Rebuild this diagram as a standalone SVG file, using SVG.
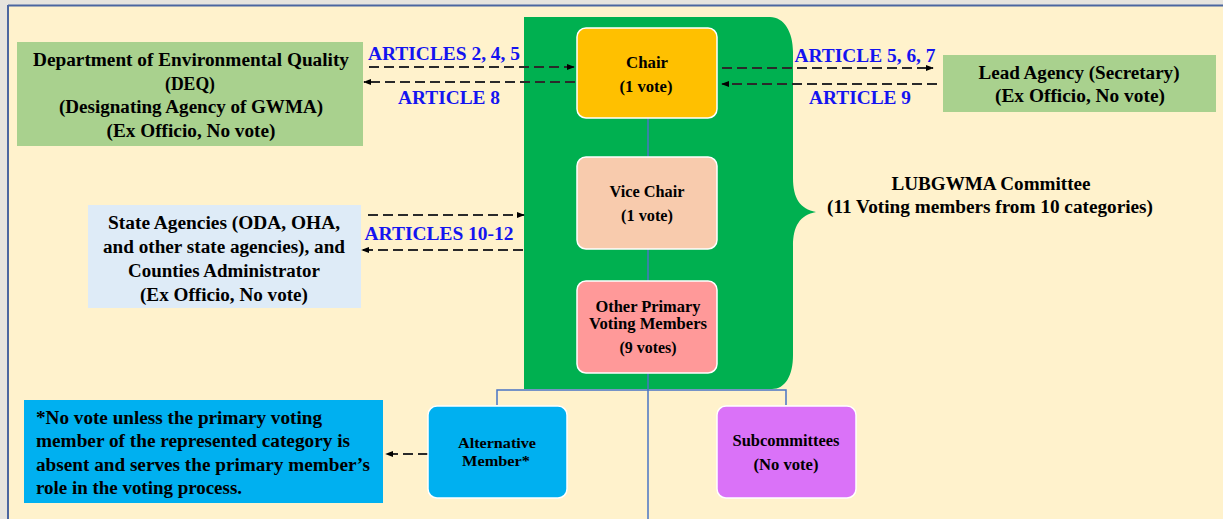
<svg xmlns="http://www.w3.org/2000/svg" width="1223" height="519" viewBox="0 0 1223 519">
<defs>
<style>
.t{font-family:"Liberation Serif","Times New Roman",serif;font-weight:bold;fill:#000;text-anchor:middle}
.s{text-anchor:start}
.b{font-family:"Liberation Serif","Times New Roman",serif;font-weight:bold;fill:#1414F0;text-anchor:middle;font-size:18.5px}
.d{stroke:#2A2A2A;stroke-width:1.8;stroke-dasharray:10,5;fill:none}
.ln{stroke:#4A74C4;stroke-width:1.5;fill:none}
.node{stroke:#fff;stroke-width:1.5}
</style>
<marker id="ah" viewBox="0 0 10 10" refX="9" refY="5" markerWidth="8" markerHeight="8" markerUnits="userSpaceOnUse" orient="auto">
<path d="M0,1 L10,5 L0,9 z" fill="#000"/>
</marker>
</defs>
<rect x="0" y="0" width="1223" height="519" fill="#E6E4DE"/>
<rect x="8" y="5" width="1215" height="514" fill="#FFF2CC"/>
<line x1="8" y1="5.5" x2="1223" y2="5.5" stroke="#4B66A0" stroke-width="2"/>
<line x1="8" y1="5" x2="8" y2="519" stroke="#4B66A0" stroke-width="2"/>

<g id="committee">
<path d="M524,17 L770,17 C784,17 793,32 793,52 L793,178 C793,198 800,209 816,212 C800,215 793,226 793,246 L793,355 C793,376 785,389 772,389 L524,389 Z" fill="#00B050"/>
<text class="t" x="991" y="190" font-size="18.5" textLength="199" lengthAdjust="spacingAndGlyphs">LUBGWMA Committee</text>
<text class="t" x="990" y="213" font-size="18.5" textLength="326" lengthAdjust="spacingAndGlyphs">(11 Voting members from 10 categories)</text>
</g>

<g id="connectors">
<line class="ln" x1="648" y1="118" x2="648" y2="519"/>
<polyline class="ln" points="497,405 497,390 786,390 786,405"/>
<line class="d" x1="369" y1="67" x2="574" y2="67" marker-end="url(#ah)"/>
<line class="d" x1="575" y1="82" x2="364" y2="82" marker-end="url(#ah)"/>
<line class="d" x1="722" y1="68" x2="933" y2="68" marker-end="url(#ah)"/>
<line class="d" x1="937" y1="84" x2="722" y2="84" marker-end="url(#ah)"/>
<line class="d" x1="368" y1="215" x2="524" y2="215" marker-end="url(#ah)"/>
<line class="d" x1="523" y1="250" x2="362" y2="250" marker-end="url(#ah)"/>
<line class="d" x1="428" y1="454" x2="386" y2="454" marker-end="url(#ah)"/>
<text class="b" x="444" y="60" textLength="152" lengthAdjust="spacingAndGlyphs">ARTICLES  2, 4, 5</text>
<text class="b" x="449" y="104" textLength="102" lengthAdjust="spacingAndGlyphs">ARTICLE  8</text>
<text class="b" x="865" y="62" textLength="141" lengthAdjust="spacingAndGlyphs">ARTICLE  5, 6, 7</text>
<text class="b" x="860" y="104" textLength="102" lengthAdjust="spacingAndGlyphs">ARTICLE  9</text>
<text class="b" x="439" y="240" textLength="149" lengthAdjust="spacingAndGlyphs">ARTICLES  10-12</text>
</g>

<g id="deq">
<rect x="17" y="42" width="346" height="104" fill="#A9D18E"/>
<text class="t" x="191" y="66" font-size="18.5" textLength="316" lengthAdjust="spacingAndGlyphs">Department of Environmental  Quality</text>
<text class="t" x="190" y="90" font-size="18.5" textLength="50" lengthAdjust="spacingAndGlyphs">(DEQ)</text>
<text class="t" x="191" y="113" font-size="18.5" textLength="264" lengthAdjust="spacingAndGlyphs">(Designating Agency of GWMA)</text>
<text class="t" x="191" y="137" font-size="18.5" textLength="169" lengthAdjust="spacingAndGlyphs">(Ex Officio, No vote)</text>
</g>

<g id="lead">
<rect x="943" y="55" width="273" height="57" fill="#A9D18E"/>
<text class="t" x="1079" y="79" font-size="18.5" textLength="201" lengthAdjust="spacingAndGlyphs">Lead Agency (Secretary)</text>
<text class="t" x="1080" y="102" font-size="18.5" textLength="170" lengthAdjust="spacingAndGlyphs">(Ex Officio, No vote)</text>
</g>

<g id="state">
<rect x="88" y="205" width="273" height="103" fill="#DEEBF7"/>
<text class="t" x="224" y="229" font-size="18.5" textLength="232" lengthAdjust="spacingAndGlyphs">State Agencies (ODA, OHA,</text>
<text class="t" x="224" y="253" font-size="18.5" textLength="242" lengthAdjust="spacingAndGlyphs">and other state agencies), and</text>
<text class="t" x="224" y="277" font-size="18.5" textLength="192" lengthAdjust="spacingAndGlyphs">Counties Administrator</text>
<text class="t" x="224" y="301" font-size="18.5" textLength="168" lengthAdjust="spacingAndGlyphs">(Ex Officio, No vote)</text>
</g>

<g id="chair">
<rect class="node" x="577" y="28" width="140" height="90" rx="9" fill="#FFC000"/>
<text class="t" x="647" y="68" font-size="16" textLength="42" lengthAdjust="spacingAndGlyphs">Chair</text>
<text class="t" x="646" y="92" font-size="16" textLength="53" lengthAdjust="spacingAndGlyphs">(1 vote)</text>
</g>

<g id="vicechair">
<rect class="node" x="577" y="157" width="140" height="92" rx="9" fill="#F8CBAD"/>
<text class="t" x="647" y="197" font-size="16" textLength="75" lengthAdjust="spacingAndGlyphs">Vice Chair</text>
<text class="t" x="647" y="221" font-size="16" textLength="52" lengthAdjust="spacingAndGlyphs">(1 vote)</text>
</g>

<g id="other">
<rect class="node" x="577" y="281" width="140" height="92" rx="9" fill="#FF9999"/>
<text class="t" x="648" y="312" font-size="16" textLength="105" lengthAdjust="spacingAndGlyphs">Other Primary</text>
<text class="t" x="648" y="329" font-size="16" textLength="118" lengthAdjust="spacingAndGlyphs">Voting Members</text>
<text class="t" x="648" y="353" font-size="16" textLength="57" lengthAdjust="spacingAndGlyphs">(9 votes)</text>
</g>

<g id="note">
<rect x="24" y="400" width="359" height="103" fill="#00B0F0"/>
<text class="t s" x="36" y="424" font-size="18" textLength="286" lengthAdjust="spacingAndGlyphs">*No vote unless the primary  voting</text>
<text class="t s" x="36" y="447" font-size="18" textLength="314" lengthAdjust="spacingAndGlyphs">member of the represented  category is</text>
<text class="t s" x="36" y="471" font-size="18" textLength="334" lengthAdjust="spacingAndGlyphs">absent and serves the primary  member’s</text>
<text class="t s" x="36" y="494" font-size="18" textLength="206" lengthAdjust="spacingAndGlyphs">role in the voting process.</text>
</g>

<g id="alternative">
<rect class="node" x="428" y="406" width="139" height="92" rx="9" fill="#00B0F0"/>
<text class="t" x="497" y="448" font-size="15" textLength="78" lengthAdjust="spacingAndGlyphs">Alternative</text>
<text class="t" x="496" y="466" font-size="15" textLength="68" lengthAdjust="spacingAndGlyphs">Member*</text>
</g>

<g id="subcommittees">
<rect class="node" x="717" y="406" width="139" height="92" rx="9" fill="#DA72F8"/>
<text class="t" x="786" y="446" font-size="16" textLength="107" lengthAdjust="spacingAndGlyphs">Subcommittees</text>
<text class="t" x="786" y="470" font-size="16" textLength="65" lengthAdjust="spacingAndGlyphs">(No vote)</text>
</g>
</svg>
